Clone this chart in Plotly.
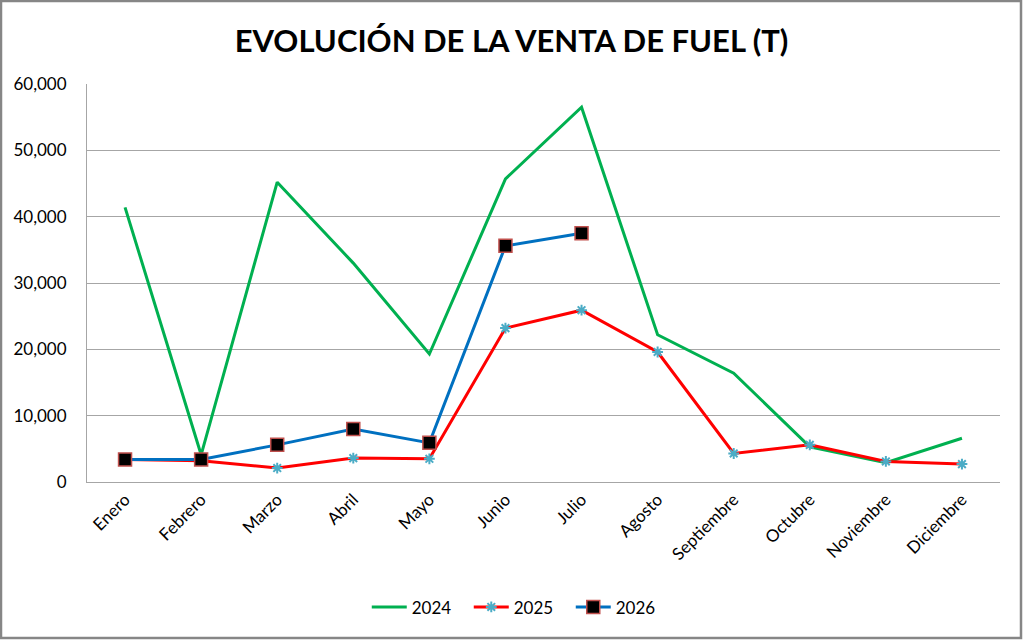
import plotly.graph_objects as go

meses = ["Enero", "Febrero", "Marzo", "Abril", "Mayo", "Junio", "Julio",
         "Agosto", "Septiembre", "Octubre", "Noviembre", "Diciembre"]
v2024 = [41400, 4100, 45200, 33000, 19300, 45700, 56500, 22200, 16400, 5300, 2900, 6600]
v2025 = [3400, 3200, 2100, 3600, 3500, 23200, 25900, 19600, 4300, 5600, 3100, 2700]
v2026 = [3400, 3400, 5600, 8000, 5900, 35600, 37500]
y_ticks = [0, 10000, 20000, 30000, 40000, 50000, 60000]

FONT = "Lato"

fig = go.Figure()
fig.add_trace(go.Scatter(x=meses, y=v2024, name="2024", mode="lines",
                         line=dict(color="#00B050", width=3)))
fig.add_trace(go.Scatter(x=meses, y=v2025, name="2025", mode="lines+markers",
                         line=dict(color="#FF0000", width=3),
                         marker=dict(symbol="asterisk-open", size=9, color="#4BACC6",
                                     line=dict(color="#4BACC6", width=2))))
fig.add_trace(go.Scatter(x=meses[:len(v2026)], y=v2026, name="2026", mode="lines+markers",
                         line=dict(color="#0070C0", width=3),
                         marker=dict(symbol="square", size=13, color="#000000",
                                     line=dict(color="#C0504D", width=1.5))))

fig.update_layout(
    width=1023, height=640,
    margin=dict(l=87, r=23, t=84, b=158),
    paper_bgcolor="white", plot_bgcolor="white",
    font=dict(family=FONT, size=17, color="#000000"),
    title=dict(text="<b>EVOLUCIÓN DE LA VENTA DE FUEL (T)</b>",
               x=0.5, xanchor="center", y=0.935, yanchor="middle",
               font=dict(family=FONT, size=31, color="#000000")),
    showlegend=True,
    legend=dict(orientation="h", x=0.474, xanchor="center", y=-0.315, yanchor="middle",
                font=dict(family=FONT, size=17), itemwidth=35,
                entrywidth=52, entrywidthmode="pixels", tracegroupgap=0),
    xaxis=dict(type="category", tickangle=-45, showgrid=False,
               showline=True, linecolor="#A6A6A6", linewidth=1,
               ticks="", range=[-0.5, 11.5], tickfont=dict(size=17)),
    yaxis=dict(range=[0, 60000], tickvals=y_ticks, tickformat=",",
               showgrid=True, gridcolor="#A6A6A6", gridwidth=1,
               showline=True, linecolor="#A6A6A6", linewidth=1,
               ticks="", zeroline=False, tickfont=dict(size=17),
               ticklabelstandoff=16),
    shapes=[dict(type="rect", xref="paper", yref="paper",
                 x0=-86/913, x1=1+21/913, y0=-156/398, y1=1+83/398,
                 line=dict(color="#868686", width=2.5))],
)

fig.write_html("out.html", config={"displayModeBar": False},
               post_script="document.body.style.margin='0';")
